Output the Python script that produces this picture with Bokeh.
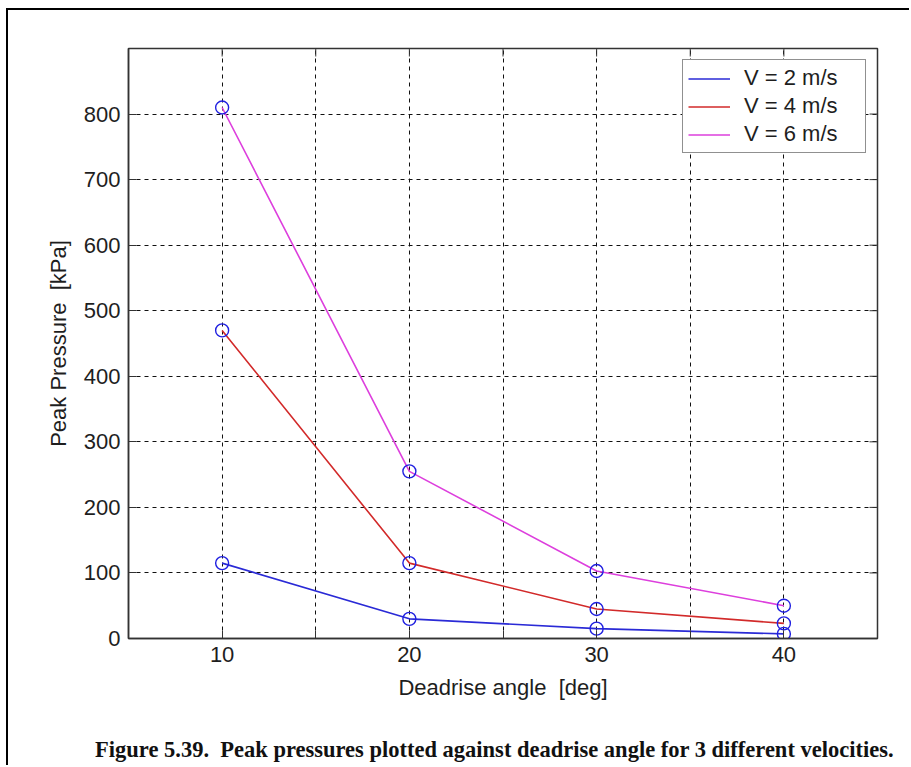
from bokeh.plotting import figure
from bokeh.models import Legend, LegendItem, FixedTicker, Range1d, LinearAxis
from bokeh.embed import file_html
from bokeh.resources import INLINE

angles = [10, 20, 30, 40]
p_v2 = [115, 30, 15, 7]
p_v4 = [470, 115, 45, 23]
p_v6 = [810, 255, 103, 50]
series_labels = ["V = 2 m/s", "V = 4 m/s", "V = 6 m/s"]
line_colors = ["#2a2ad6", "#d22a2a", "#dd3fdd"]
x_ticks = [5, 10, 15, 20, 25, 30, 35, 40, 45]
x_tick_labels = {5: "", 10: "10", 15: "", 20: "20", 25: "", 30: "30", 35: "", 40: "40", 45: ""}
y_ticks = [0, 100, 200, 300, 400, 500, 600, 700, 800]
caption = "Figure 5.39. \u00a0Peak pressures plotted against deadrise angle for 3 different velocities."

FONT = "Liberation Sans"
TXT = "#1e1e1e"
X0, X1, Y0, Y1 = 5, 45, 0, 900
FRAME_W, FRAME_H = 749, 590

p = figure(width=903, height=757, output_backend="svg", toolbar_location=None,
           x_range=Range1d(X0, X1), y_range=Range1d(Y0, Y1),
           min_border_left=120, min_border_right=34, min_border_top=38,
           min_border_bottom=129)
p.margin = (8, 0, 0, 6)
p.styles = {"border-top": "2px solid black", "border-left": "2px solid black"}
p.background_fill_color = "white"
p.border_fill_color = "white"
p.outline_line_color = "#333333"
p.outline_line_width = 1.5

for ax in (p.xaxis[0], p.yaxis[0]):
    ax.major_label_text_font = FONT
    ax.major_label_text_font_size = "22px"
    ax.major_label_text_color = TXT
    ax.axis_label_text_font = FONT
    ax.axis_label_text_font_size = "22px"
    ax.axis_label_text_font_style = "normal"
    ax.axis_label_text_color = TXT
    ax.axis_line_color = "#333333"
    ax.axis_line_width = 1.5
    ax.major_tick_in = 8
    ax.major_tick_out = 0
    ax.major_tick_line_color = "#333333"
    ax.minor_tick_line_color = None
    ax.major_label_standoff = 8
    ax.axis_label_standoff = 10

p.xaxis.ticker = FixedTicker(ticks=x_ticks)
p.xaxis.major_label_overrides = x_tick_labels
p.yaxis.ticker = FixedTicker(ticks=y_ticks)
p.xaxis.axis_label = "Deadrise angle \u00a0[deg]"
p.yaxis.axis_label = "Peak Pressure \u00a0[kPa]"

# inward ticks on the top and right edges of the box
tx = 8 * (X1 - X0) / FRAME_W
ty = 8 * (Y1 - Y0) / FRAME_H
p.segment(x0=x_ticks, y0=[Y1] * len(x_ticks), x1=x_ticks, y1=[Y1 - ty] * len(x_ticks),
          line_color="#333333", line_width=1)
p.segment(x0=[X1] * len(y_ticks), y0=y_ticks, x1=[X1 - tx] * len(y_ticks), y1=y_ticks,
          line_color="#333333", line_width=1)

p.xgrid.ticker = FixedTicker(ticks=x_ticks)
p.ygrid.ticker = FixedTicker(ticks=y_ticks)
for g in (p.xgrid[0], p.ygrid[0]):
    g.grid_line_color = "#111111"
    g.grid_line_dash = "4 4"
    g.grid_line_width = 1

items = []
for vals, lab, col in zip([p_v2, p_v4, p_v6], series_labels, line_colors):
    r = p.line(angles, vals, line_color=col, line_width=1.6)
    p.scatter(angles, vals, marker="circle", size=13, fill_color=None,
              line_color="#2020e0", line_width=1.4)
    items.append(LegendItem(label=lab, renderers=[r]))

legend = Legend(items=items, location="top_right")
legend.label_text_font = FONT
legend.label_text_font_size = "22px"
legend.label_text_color = TXT
legend.border_line_color = "#222222"
legend.border_line_width = 1.3
legend.margin = 11
legend.padding = 5
legend.spacing = 2
legend.label_height = 23
legend.glyph_height = 23
legend.glyph_width = 42
legend.label_standoff = 14
legend.label_width = 116
legend.background_fill_color = "white"
legend.background_fill_alpha = 1
p.add_layout(legend)

# figure caption: label of an outer, tick-less axis below the x axis
cap_ax = LinearAxis(ticker=FixedTicker(ticks=[]))
cap_ax.axis_line_color = None
cap_ax.major_tick_line_color = None
cap_ax.minor_tick_line_color = None
cap_ax.major_tick_in = 0
cap_ax.major_tick_out = 0
cap_ax.major_label_standoff = 0
cap_ax.axis_label = caption + "\u00a0" * 3
cap_ax.axis_label_text_font = "Liberation Serif"
cap_ax.axis_label_text_font_size = "22.5px"
cap_ax.axis_label_text_font_style = "bold"
cap_ax.axis_label_text_color = "#111111"
cap_ax.axis_label_standoff = 34
p.add_layout(cap_ax, "below")

open("out.html", "w").write(file_html(p, INLINE))
